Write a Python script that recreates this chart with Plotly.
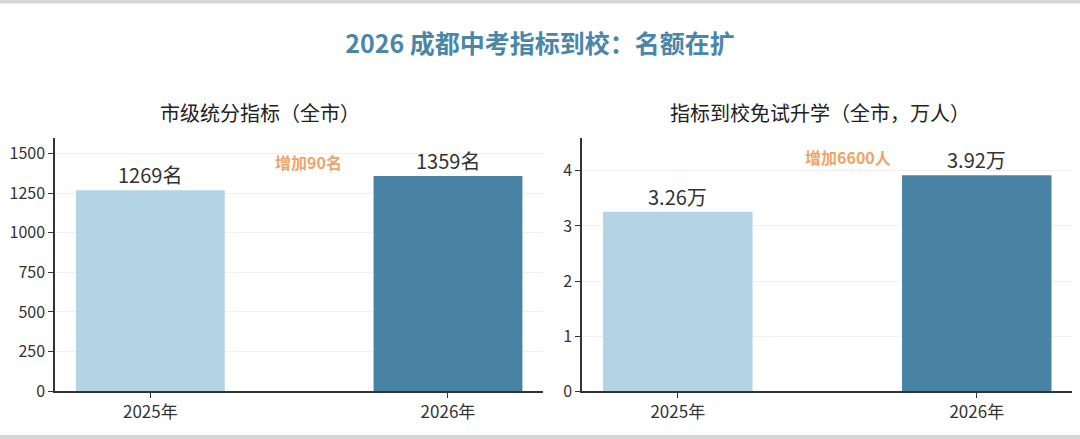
import plotly.graph_objects as go
from plotly.subplots import make_subplots

# Data
years = ["2025年", "2026年"]
city_quota = [1269, 1359]
city_quota_labels = ["1269名", "1359名"]
school_quota = [3.26, 3.92]
school_quota_labels = ["3.26万", "3.92万"]
bar_colors = ["#b2d4e4", "#4883a6"]

FONT = "Noto Sans CJK SC"

fig = make_subplots(
    rows=1, cols=2,
    subplot_titles=("市级统分指标（全市）", "指标到校免试升学（全市，万人）"),
    horizontal_spacing=0.036,
)

# Left: city-level quota
fig.add_trace(go.Bar(
    x=years,
    y=city_quota,
    marker=dict(color=bar_colors, line=dict(width=0)),
    width=0.5,
    showlegend=False,
), row=1, col=1)

# Right: quota to schools
fig.add_trace(go.Bar(
    x=years,
    y=school_quota,
    marker=dict(color=bar_colors, line=dict(width=0)),
    width=0.5,
    showlegend=False,
), row=1, col=2)

# Value labels sitting just above each bar
for xr, yr, vals, labels in [("x", "y", city_quota, city_quota_labels),
                             ("x2", "y2", school_quota, school_quota_labels)]:
    for yr_name, v, lab in zip(years, vals, labels):
        fig.add_annotation(x=yr_name, y=v, xref=xr, yref=yr, text=lab,
                           showarrow=False, yanchor="bottom", yshift=-1,
                           font=dict(size=20, color="#333333", family=FONT))

axis_style = dict(
    showline=True, linecolor="#333333", linewidth=1.5,
    ticks="outside", ticklen=5, tickcolor="#333333",
    automargin=False,
)

fig.update_xaxes(axis_style, showgrid=False, range=[-0.32, 1.32],
                 tickfont=dict(size=17, color="#333333", family=FONT))
fig.update_xaxes(domain=[0.051, 0.503], row=1, col=1)
fig.update_xaxes(domain=[0.539, 0.993], row=1, col=2)
fig.update_yaxes(axis_style, showgrid=True, gridcolor="#f0f0f0", gridwidth=1,
                 zeroline=False, domain=[0.109, 0.686],
                 tickfont=dict(size=16, color="#333333", family=FONT))
fig.update_yaxes(range=[0, 1600], tickvals=[0, 250, 500, 750, 1000, 1250, 1500], row=1, col=1)
fig.update_yaxes(range=[0, 4.6], tickvals=[0, 1, 2, 3, 4], row=1, col=2)

# Subplot titles (the first two annotations)
for ann in fig.layout.annotations[:2]:
    ann.font = dict(size=20, color="#222222", family=FONT)
    ann.y = 0.706
    ann.yanchor = "bottom"

# Increase notes
fig.add_annotation(x=0.53, y=1450, xref="x", yref="y", text="<b>增加90名</b>",
                   showarrow=False, font=dict(size=16, color="#eea468", family=FONT))
fig.add_annotation(x=0.57, y=4.25, xref="x2", yref="y2", text="<b>增加6600人</b>",
                   showarrow=False, font=dict(size=16, color="#eea468", family=FONT))

# Screenshot border bands at top and bottom
fig.add_shape(type="rect", xref="paper", yref="paper", x0=0, x1=1, y0=0.992, y1=1.0,
              fillcolor="#d6d6d6", line=dict(width=0), layer="above")
fig.add_shape(type="rect", xref="paper", yref="paper", x0=0, x1=1, y0=0, y1=0.009,
              fillcolor="#d6d6d6", line=dict(width=0), layer="above")

fig.update_layout(
    width=1080, height=439,
    margin=dict(l=0, r=0, t=0, b=0),
    title=dict(text="<b>2026 成都中考指标到校：名额在扩</b>", x=0.5, xanchor="center",
               y=0.9, yanchor="middle",
               font=dict(size=25, color="#4a86a8", family=FONT)),
    font=dict(family=FONT, color="#333333"),
    plot_bgcolor="white",
    paper_bgcolor="white",
)

# drop the page's default body margin so the figure sits at the window origin
fig.write_html("out.html", config={"displayModeBar": False},
               post_script="document.body.style.margin='0';")
